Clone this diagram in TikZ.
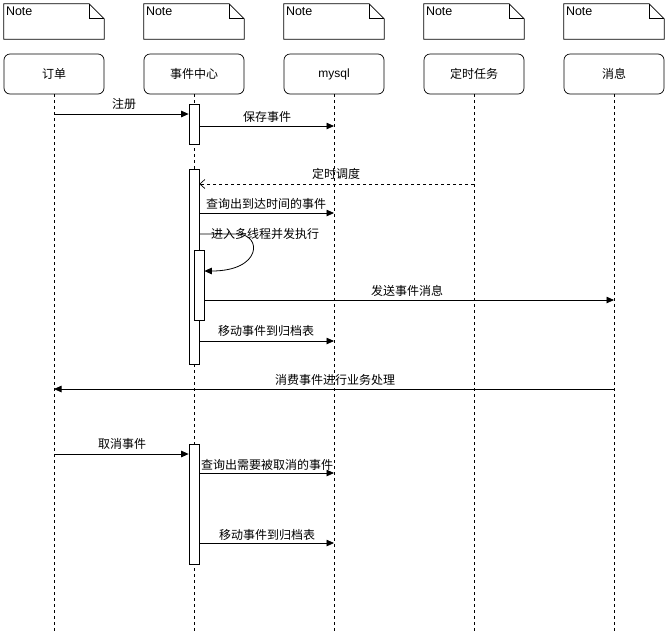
\documentclass[tikz,border=0pt]{standalone}
\usepackage{fontspec}
\setmainfont{Liberation Sans}
\newfontfamily\cjk{Noto Sans CJK SC}
\usetikzlibrary{arrows.meta}
\begin{document}
\begin{tikzpicture}[x=1pt,y=-1pt,
  head/.style={draw, line width=0.7pt, rounded corners=6pt, minimum width=100pt, minimum height=40pt, inner sep=0pt, font=\cjk\fontsize{12}{14}\selectfont},
  notebox/.style={minimum width=100pt, minimum height=35pt, inner sep=0pt},
  act/.style={draw, line width=0.7pt, fill=white, minimum width=10pt, inner sep=0pt},
  life/.style={dash pattern=on 3pt off 3pt, line width=0.7pt},
  msg/.style={-{Triangle[length=7.5pt,width=6.5pt]}, line width=0.8pt},
  ret/.style={-{Straight Barb[length=5pt,width=9pt]}, dash pattern=on 3pt off 3pt, line width=0.7pt},
  lbl/.style={font=\cjk\fontsize{12}{14}\selectfont, inner sep=0pt}
]
\useasboundingbox[fill=white] (0,0) rectangle (671,641);

% notes
\foreach \i/\x in {1/54,2/194,3/334,4/474,5/614}{
  \node[notebox] (n\i) at (\x,21.5) {};
  \draw[line width=0.7pt] (n\i.north west) -- ([xshift=-15pt]n\i.north east) -- ([yshift=-15pt]n\i.north east) -- (n\i.south east) -- (n\i.south west) -- cycle;
  \draw[line width=0.7pt] ([xshift=-15pt]n\i.north east) -- ([xshift=-15pt,yshift=-15pt]n\i.north east) -- ([yshift=-15pt]n\i.north east);
  \node[anchor=north west, inner sep=0pt, font=\fontsize{12.5}{14}\selectfont] at ([xshift=2pt,yshift=-3pt]n\i.north west) {Note};
}

% heads
\node[head] (A) at (54,74) {订单};
\node[head] (B) at (194,74) {事件中心};
\node[head, font=\fontsize{12}{14}\selectfont] (C) at (334,74) {mysql};
\node[head] (D) at (474,74) {定时任务};
\node[head] (E) at (614,74) {消息};

% lifeline ends
\foreach \n in {A,B,C,D,E}{
  \coordinate (\n end) at (\n |- 0,632);
  \draw[life] (\n.south) -- (\n end);
}

% activation bars
\node[act, minimum height=40pt] (b1) at (194,124) {};
\node[act, minimum height=195pt] (b2) at (194,266.5) {};
\node[act, minimum height=70pt] (b3) at (199,285) {};
\node[act, minimum height=120pt] (b4) at (194,504) {};

% y levels
\coordinate (y1) at (0,114);
\coordinate (y2) at (0,126);
\coordinate (y3) at (0,184);
\coordinate (y4) at (0,213);
\coordinate (y5) at (0,234);
\coordinate (y6) at (0,300);
\coordinate (y7) at (0,341);
\coordinate (y8) at (0,389);
\coordinate (y9) at (0,454);
\coordinate (y10) at (0,473);
\coordinate (y11) at (0,543);

% messages
\draw[msg] (A |- y1) -- (b1.west |- y1);
\node[lbl] at (124,104) {注册};

\draw[msg] (b1.east |- y2) -- (C |- y2);
\node[lbl] at (267,117) {保存事件};

\draw[ret] (D |- y3) -- (b2.east |- y3);
\node[lbl] at (336,174) {定时调度};

\draw[msg] (b2.east |- y4) -- (C |- y4);
\node[lbl] at (266,204) {查询出到达时间的事件};

\draw[msg] (b2.east |- y5) -- (238,234) .. controls (262,235) and (262,271) .. (b3.east |- 0,271);
\node[lbl] at (265,234) {进入多线程并发执行};

\draw[msg] (b3.east |- y6) -- (E |- y6);
\node[lbl] at (407,291) {发送事件消息};

\draw[msg] (b2.east |- y7) -- (C |- y7);
\node[lbl] at (266,331) {移动事件到归档表};

\draw[msg] (E |- y8) -- (A |- y8);
\node[lbl] at (335,380) {消费事件进行业务处理};

\draw[msg] (A |- y9) -- (b4.west |- y9);
\node[lbl] at (122,444) {取消事件};

\draw[msg] (b4.east |- y10) -- (C |- y10);
\node[lbl] at (267,465) {查询出需要被取消的事件};

\draw[msg] (b4.east |- y11) -- (C |- y11);
\node[lbl] at (267,535) {移动事件到归档表};
\end{tikzpicture}
\end{document}
